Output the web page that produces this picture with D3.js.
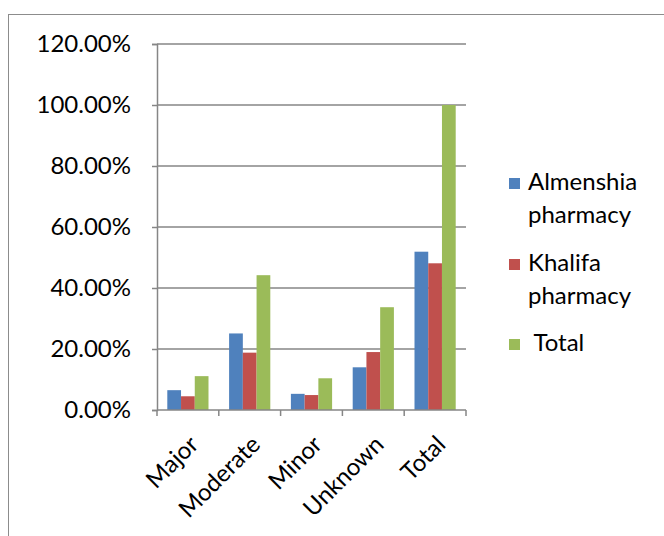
<!DOCTYPE html>
<html><head><meta charset="utf-8">
<script src="https://cdn.jsdelivr.net/npm/d3@7"></script>
<style>body{margin:0;background:#fff}svg{display:block}text{font-family:Lato,"Open Sans",sans-serif;fill:#000}</style>
</head><body>
<script>
const categories = ["Major","Moderate","Minor","Unknown","Total"];
const seriesNames = ["Almenshia pharmacy","Khalifa pharmacy","Total"];
const almenshia = [0.065,0.251,0.053,0.140,0.519];
const khalifa = [0.045,0.188,0.049,0.190,0.481];
const total = [0.111,0.442,0.104,0.337,1.000];
const yTicks = [0,0.2,0.4,0.6,0.8,1.0,1.2];
const colors = ["#4F81BD","#C0504D","#9BBB59"];
const legendLines = [["Almenshia","pharmacy"],["Khalifa","pharmacy"],[" Total"]];

const W=664,H=536;
const FS=24;
const svg=d3.select("body").append("svg").attr("width",W).attr("height",H);
svg.append("rect").attr("x",8.5).attr("y",14.5).attr("width",W).attr("height",H).attr("fill","none").attr("stroke","#8c8c8c").attr("stroke-width",1);

const m={l:157,r:466,t:44,b:410};
const x=d3.scaleBand().domain(categories).range([m.l,m.r]);
const y=d3.scaleLinear().domain([0,1.2]).range([m.b,m.t]);
const gapRatio=1.5;
const bw=x.bandwidth()/(3+gapRatio);
const x1=d3.scaleBand().domain(d3.range(3)).range([bw*gapRatio/2, bw*gapRatio/2+3*bw]);

svg.append("g").selectAll("line").data(yTicks.slice(1)).join("line")
 .attr("x1",m.l).attr("x2",m.r).attr("y1",d=>y(d)).attr("y2",d=>y(d))
 .attr("stroke","#868686").attr("stroke-width",1.5);

const data=[almenshia,khalifa,total];
const g=svg.append("g");
data.forEach((arr,si)=>{
 g.selectAll(null).data(arr).join("rect")
  .attr("x",(d,i)=>x(categories[i])+x1(si))
  .attr("y",d=>y(d)).attr("width",x1.bandwidth()).attr("height",d=>m.b-y(d))
  .attr("fill",colors[si]);
});

const yAxis=d3.axisLeft(y).tickValues(yTicks).tickFormat(d=>d3.format(".2f")(d*100)+"%").tickSize(5).tickPadding(21);
const ya=svg.append("g").attr("transform",`translate(${m.l},0)`).call(yAxis);
ya.select(".domain").attr("stroke","#868686").attr("stroke-width",1.5);
ya.selectAll(".tick line").attr("stroke","#868686").attr("stroke-width",1.5);
ya.selectAll("text").attr("font-size",FS).attr("font-family","Lato,sans-serif").attr("fill","#000");

const xa=svg.append("g").attr("transform",`translate(0,${m.b})`);
xa.append("line").attr("x1",m.l).attr("x2",m.r).attr("stroke","#868686").attr("stroke-width",1.5);
const bounds=categories.map(c=>x(c)).concat([m.r]);
xa.selectAll(".tk").data(bounds).join("line").attr("x1",d=>d).attr("x2",d=>d).attr("y1",0).attr("y2",6).attr("stroke","#868686").attr("stroke-width",1.5);
xa.selectAll(".lbl").data(categories).join("text")
 .attr("transform",d=>`translate(${x(d)+x.bandwidth()/2+6},30) rotate(-45)`)
 .attr("text-anchor","end").attr("font-size",FS).attr("dy","0.35em").text(d=>d);

const lg=svg.append("g");
const ly=[190,271,351];
legendLines.forEach((lines,i)=>{
 lg.append("rect").attr("x",509).attr("y",ly[i]-12).attr("width",11).attr("height",11).attr("fill",colors[i]);
 lines.forEach((t,j)=>{
  lg.append("text").attr("x",528).attr("y",ly[i]+j*33).attr("font-size",FS).attr("xml:space","preserve").style("white-space","pre").text(t);
 });
});
</script>
</body></html>
